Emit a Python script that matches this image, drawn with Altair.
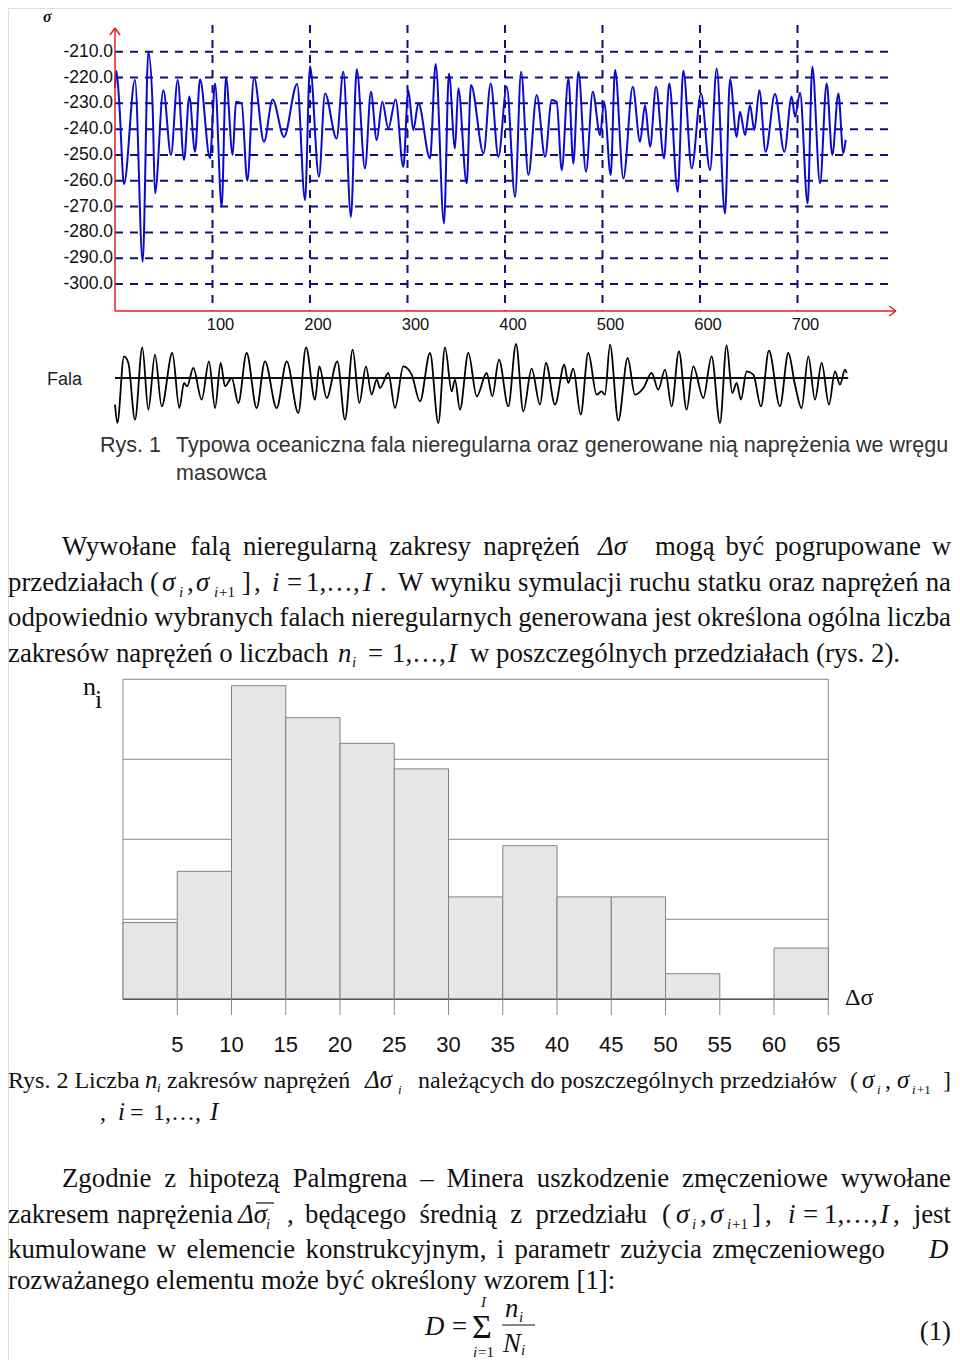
import altair as alt
import pandas as pd

# ---------------- data ----------------
sigma_points = [(0, -224), (1.5, -217.5), (4.4, -230), (9.2, -261.3), (20.5, -221), (28.4, -291.4),
    (34.2, -210), (38.6, -231.3), (41.0, -264.9), (49.6, -224.9), (57.4, -250), (64.3, -221),
    (70.8, -252), (76.2, -227.4), (82.1, -248.8), (87.2, -220.7), (97.4, -251.3), (102.6, -222.3),
    (109.4, -270), (113.8, -220), (120.7, -250), (124.1, -229.4), (129.9, -230), (135.7, -260),
    (142.6, -220), (152.8, -244.9), (161.7, -228.5), (173.3, -243), (186.8, -222.5), (194.9, -267.5),
    (200.0, -215.6), (209.2, -258.4), (215.4, -226.2), (227.3, -243.6), (234.2, -217.8), (242.0, -274),
    (247.9, -216.8), (256.4, -255.2), (262.5, -225.5), (268.4, -244.2), (274.2, -229.4), (280.3, -239.7),
    (287.8, -228.5), (295.7, -254.6), (300.8, -224.9), (306.0, -240.4), (311.1, -230), (323.1, -251.3),
    (328.9, -214.8), (337.4, -276.5), (342.5, -218.4), (348.7, -247.5), (352.1, -224.2), (360.7, -261),
    (365.1, -222.9), (378.0, -249.4), (385.3, -222.3), (393.2, -250.7), (401.8, -223.6), (410.3, -266.2),
    (416.5, -217.8), (424.0, -257.8), (432.5, -226.8), (441.1, -250.7), (447.9, -228.7), (453.0, -229.4),
    (458.2, -255.9), (465.0, -220.3), (470.1, -253.3), (475.3, -217.8), (483.1, -256.5), (490.0, -225.5),
    (497.5, -242.3), (501.6, -229.4), (508.4, -257.8), (512.9, -217.1), (521.4, -259.1), (531.0, -223.6),
    (538.5, -244.9), (543.6, -230.7), (548.8, -246.8), (554.9, -223.6), (563.1, -251.3), (568.5, -222.3),
    (577.1, -264.3), (582.9, -217.4), (591.5, -255.2), (601.0, -226.2), (610.3, -255.9), (617.1, -216.5),
    (625.6, -272.7), (630.8, -220.7), (637.6, -243), (641.0, -233.3), (646.2, -242.3), (651.3, -230.7),
    (655.7, -240.4), (660.9, -224.9), (667.3, -248.8), (676.9, -226.4), (686.5, -248.8), (694.0, -227.4),
    (697.4, -235.2), (702.6, -225.9), (710.4, -268.8), (715.2, -215.8), (723.1, -261), (729.9, -222.3),
    (735.7, -250), (741.9, -226.2), (747.0, -249.4), (749.4, -244.2)]

fala_points = [(0, -8), (2.4, -13.5), (9.2, 6.5), (13.7, 4.5), (20.5, -12.5), (28, 9.2), (34.2, -9.5),
    (41, 7), (47.9, -8.5), (58.8, 7.5), (66, -9), (70.8, -1.5), (74, -2.5), (80.3, 3), (88.9, -6.5),
    (96.4, 5), (102.6, -9), (108.4, 4.5), (112.8, -2.5), (119.7, 0), (126.5, -7.5), (135, 7.5),
    (145.3, -9), (153.8, 5), (165.8, -9), (176.1, 5), (188, -10.5), (195.9, 9.2), (205.1, -6.5),
    (209.6, 3.5), (217.1, -6), (228, 5), (235.9, -12.5), (243.8, 8.5), (250.6, -7.5), (257.4, 3.5),
    (263.2, -5), (268.4, -0.5), (271.8, -3), (280.3, 1.5), (287.2, -9), (295.7, 3.5), (304.3, 1),
    (312.8, -7), (323.1, 7.5), (331.6, -13.5), (338.5, 9.2), (345.3, -4), (348.7, -0.5), (353.8, -9.5),
    (362.4, 7.5), (371, -5.5), (381.2, 1.5), (387, -5.5), (393.8, 5.5), (403.4, -8.5), (411.3, 10.2),
    (418.8, -10), (427.3, 2.8), (435.9, -8), (442, 4.5), (451.3, -8), (460.8, 4), (464.9, -1.5),
    (470, 2.8), (477.6, -11), (485.4, 7.5), (494, -5), (499.1, -4), (502.5, -5), (507.7, 10),
    (516.2, -12.8), (525.8, 6), (533.3, -5), (541.9, -3), (550.4, 1.5), (557.2, -3.5), (564.1, 2.5),
    (570.9, -8.5), (578.4, 8), (586.3, -9.5), (593.1, 3.5), (603.4, -6), (611.9, 6.5), (620.5, -13.5),
    (627.3, 9.8), (633.1, -4.5), (637.6, -1.5), (642, -6.5), (647.8, 2), (654.7, 1), (662.5, -8.5),
    (670.7, 8.2), (682, -8.5), (690.6, 7.5), (697.4, -2), (704.2, -9), (711.1, 6.5), (717.9, -6.5),
    (724.8, 4.5), (732.3, -8), (738.4, 2), (743.6, -2), (748.7, 2.5), (750.4, 1.5)]

sigma_ticks = [-210, -220, -230, -240, -250, -260, -270, -280, -290, -300]
sigma_tick_labels = ["-210.0", "-220.0", "-230.0", "-240.0", "-250.0", "-260.0", "-270.0",
                     "-280.0", "-290.0", "-300.0"]
time_ticks = [100, 200, 300, 400, 500, 600, 700]

hist_lo = [0, 5, 10, 15, 20, 25, 30, 35, 40, 45, 50, 55, 60]
hist_n = [3, 5, 12.25, 11, 10, 9, 4, 6, 4, 4, 1, 0, 2]
hist_ticks = [5, 10, 15, 20, 25, 30, 35, 40, 45, 50, 55, 60, 65]
hist_grid = [3.125, 6.25, 9.375, 12.5]

O = 8  # page margin


def P(v):
    return v - O


# ---------------- scales ----------------
tx = alt.Scale(domain=[0, 750], range=[P(115), P(115 + 731.25)], zero=False, nice=False)
sy = alt.Scale(domain=[-300, -210], range=[P(284), P(51.7)], zero=False, nice=False)
fy = alt.Scale(domain=[-15, 15], range=[P(428), P(328)], zero=False, nice=False)
hx = alt.Scale(domain=[0, 65], range=[P(123), P(828.3)], zero=False, nice=False)
hy = alt.Scale(domain=[0, 12.5], range=[P(999.3), P(679.3)], zero=False, nice=False)

NAVY = "#10107a"
BLUE = "#0b0bd0"
RED = "#e02020"

layers = []

# ---- top chart ----
sig_df = pd.DataFrame(sigma_points, columns=["t", "s"])
ytick_df = pd.DataFrame({"s": sigma_ticks, "lab": sigma_tick_labels})
xtick_df = pd.DataFrame({"t": time_ticks, "lab": [str(v) for v in time_ticks]})

layers.append(alt.Chart(ytick_df).mark_rule(color=NAVY, strokeWidth=2, strokeDash=[8, 7]).encode(
    y=alt.Y("s:Q", scale=sy, axis=None), x=alt.value(P(115)), x2=alt.value(P(895))))
layers.append(alt.Chart(xtick_df).mark_rule(color=NAVY, strokeWidth=2, strokeDash=[8, 7]).encode(
    x=alt.X("t:Q", scale=tx, axis=None), y=alt.value(P(25)), y2=alt.value(P(311))))
layers.append(alt.Chart(sig_df).mark_line(color=BLUE, strokeWidth=2, interpolate="monotone").encode(
    x=alt.X("t:Q", scale=tx, axis=None), y=alt.Y("s:Q", scale=sy, axis=None)))
layers.append(alt.Chart(ytick_df).mark_text(align="right", baseline="middle", font="Liberation Sans",
    fontSize=17.5, color="#111").encode(y=alt.Y("s:Q", scale=sy, axis=None), x=alt.value(P(113)), text="lab:N"))
layers.append(alt.Chart(xtick_df).mark_text(align="center", baseline="middle", font="Liberation Sans",
    fontSize=16.5, color="#111", dx=8).encode(x=alt.X("t:Q", scale=tx, axis=None), y=alt.value(P(325)), text="lab:N"))

one = pd.DataFrame({"a": [0]})


def seg(x1, y1, x2, y2, color, w=1.5):
    return alt.Chart(one).mark_rule(color=color, strokeWidth=w).encode(
        x=alt.value(P(x1)), y=alt.value(P(y1)), x2=alt.value(P(x2)), y2=alt.value(P(y2)))


layers += [seg(115, 28, 115, 311, RED), seg(115, 311, 896, 311, RED),
           seg(110, 35, 115, 28, RED), seg(115, 28, 120, 35, RED),
           seg(889, 306, 896, 311, RED), seg(896, 311, 889, 316, RED)]

# ---- Fala ----
fala_df = pd.DataFrame(fala_points, columns=["t", "h"])
layers.append(alt.Chart(pd.DataFrame({"t": [0], "t2": [752], "h": [0]})).mark_rule(color="#111", strokeWidth=2).encode(
    x=alt.X("t:Q", scale=tx, axis=None), x2="t2:Q", y=alt.Y("h:Q", scale=fy, axis=None)))
layers.append(alt.Chart(fala_df).mark_line(color="#000", strokeWidth=1.8, interpolate="monotone").encode(
    x=alt.X("t:Q", scale=tx, axis=None), y=alt.Y("h:Q", scale=fy, axis=None)))

# ---- histogram ----
hist_df = pd.DataFrame({"lo": hist_lo, "hi": [v + 5 for v in hist_lo], "n": hist_n})
grid_df = pd.DataFrame({"g": hist_grid, "x0": [0] * 4, "x1": [65] * 4})
layers.append(alt.Chart(grid_df).mark_rule(color="#8a8a8a", strokeWidth=1).encode(
    y=alt.Y("g:Q", scale=hy, axis=None), x=alt.X("x0:Q", scale=hx, axis=None), x2="x1:Q"))
frame_df = pd.DataFrame({"x": [0, 65], "y0": [0, 0], "y1": [12.5, 12.5]})
layers.append(alt.Chart(frame_df).mark_rule(color="#8a8a8a", strokeWidth=1).encode(
    x=alt.X("x:Q", scale=hx, axis=None), y=alt.Y("y0:Q", scale=hy, axis=None), y2="y1:Q"))
layers.append(alt.Chart(hist_df).mark_rect(fill="#e6e6e6", stroke="#808080", strokeWidth=1).encode(
    x=alt.X("lo:Q", scale=hx, axis=None), x2="hi:Q", y=alt.Y("n:Q", scale=hy, axis=None), y2=alt.datum(0)))
layers.append(alt.Chart(pd.DataFrame({"x0": [0], "x1": [65], "y": [0]})).mark_rule(color="#555", strokeWidth=1.5).encode(
    x=alt.X("x0:Q", scale=hx, axis=None), x2="x1:Q", y=alt.Y("y:Q", scale=hy, axis=None)))
htick_df = pd.DataFrame({"x": hist_ticks, "lab": [str(v) for v in hist_ticks]})
layers.append(alt.Chart(htick_df).mark_rule(color="#8a8a8a", strokeWidth=1).encode(
    x=alt.X("x:Q", scale=hx, axis=None), y=alt.value(P(999)), y2=alt.value(P(1015))))
layers.append(alt.Chart(htick_df).mark_text(align="center", baseline="middle", font="Liberation Sans",
    fontSize=22, color="#111").encode(x=alt.X("x:Q", scale=hx, axis=None), y=alt.value(P(1045)), text="lab:N"))


# ---------------- texts ----------------
TNR = {" ": 250, ",": 250, ".": 250, ":": 278, "(": 333, ")": 333, "[": 333, "]": 333, "–": 500, "…": 1000,
       "W": 944, "Z": 611, "P": 556, "M": 889, "R": 667, "L": 611, "D": 722, "I": 333,
       "a": 444, "b": 500, "c": 444, "d": 500, "e": 444, "f": 333, "g": 500, "h": 500, "i": 278, "j": 278,
       "k": 500, "l": 278, "m": 778, "n": 500, "o": 500, "p": 500, "q": 500, "r": 333, "s": 389, "t": 278,
       "u": 500, "v": 500, "w": 722, "x": 500, "y": 500, "z": 444, "ą": 444, "ć": 444, "ę": 444, "ł": 278,
       "ń": 500, "ó": 500, "ś": 389, "ź": 444, "ż": 444}


def width(s, size):
    return sum(TNR.get(c, 500) for c in s) * size / 1000.0


def justify(words, x0, x1, y, size):
    total = sum(width(s, size) for s in words)
    gap = (x1 - x0 - total) / (len(words) - 1)
    out, x = [], x0
    for s in words:
        out.append((s, x, y))
        x += width(s, size) + gap
    return out


def T(items, size, font="Liberation Serif", style="normal", weight="normal", color="#111", align="left"):
    df = pd.DataFrame([{"x": P(x), "y": P(y), "txt": s} for s, x, y in items])
    return alt.Chart(df).mark_text(align=align, baseline="alphabetic", font=font, fontSize=size,
                                   fontStyle=style, fontWeight=weight, color=color).encode(
        x=alt.X("x:Q", scale=None, axis=None), y=alt.Y("y:Q", scale=None, axis=None), text="txt:N")


BS = 26.8
L = 8      # left text edge
R = 951    # right text edge
body = []
body += justify(["Wywołane", "falą", "nieregularną", "zakresy", "naprężeń"], 62, 580, 555, BS)
body += justify(["mogą", "być", "pogrupowane", "w"], 655, R, 555, BS)
body += [("przedziałach", L, 591), ("(", 150, 591), (",", 187, 591), ("]", 242, 591), (",", 254, 591),
         ("=", 287, 591), ("1,…,", 306, 591), (".", 380, 591)]
body += justify(["W", "wyniku", "symulacji", "ruchu", "statku", "oraz", "naprężeń", "na"], 398, R, 591, BS)
body += justify(["odpowiednio", "wybranych", "falach", "nieregularnych", "generowana", "jest", "określona",
                 "ogólna", "liczba"], L, R, 626, BS)
body += [("zakresów naprężeń o liczbach", L, 662), ("=", 368, 662), ("1,…,", 392, 662),
         ("w poszczególnych przedziałach (rys. 2).", 470, 662)]
body += justify(["Zgodnie", "z", "hipotezą", "Palmgrena", "–", "Minera", "uszkodzenie", "zmęczeniowe",
                 "wywołane"], 62, R, 1187, BS)
body += justify(["zakresem", "naprężenia"], L, 233, 1223, BS)
body += [(",", 287, 1223)]
body += justify(["będącego", "średnią", "z", "przedziału"], 305, 647, 1223, BS)
body += [("(", 662, 1223), (",", 700, 1223), ("]", 752, 1223), (",", 765, 1223), ("=", 803, 1223),
         ("1,…,", 824, 1223), (",", 893, 1223)]
body += justify(["kumulowane", "w", "elemencie", "konstrukcyjnym,", "i", "parametr", "zużycia",
                 "zmęczeniowego"], L, 885, 1258, BS)
body += [("rozważanego elementu może być określony wzorem [1]:", L, 1289), ("=", 452, 1335)]
layers.append(T(body, BS))
layers.append(T([("jest", R, 1223), ("(1)", R, 1340)], BS, align="right"))

italic_big = [
    ("Δσ", 598, 555), ("σ", 162, 591), ("σ", 196, 591), ("i", 272, 591), ("I", 363, 591),
    ("n", 338, 662), ("I", 448, 662),
    ("Δσ", 238, 1223), ("σ", 676, 1223), ("σ", 710, 1223), ("i", 788, 1223), ("I", 880, 1223),
    ("D", 929, 1258), ("D", 425, 1335), ("n", 505, 1317), ("N", 503, 1352),
]
layers.append(T(italic_big, BS, style="italic"))
italic_small = [
    ("i", 179, 597), ("i", 214, 597), ("i", 352, 667), ("i", 266, 1229), ("i", 692, 1229), ("i", 727, 1229),
    ("I", 481, 1307), ("i", 473, 1357), ("i", 519, 1322), ("i", 521, 1355),
]
layers.append(T(italic_small, 15, style="italic"))
layers.append(T([("+1", 219, 597), ("+1", 732, 1229), ("=1", 478, 1357)], 15))
layers.append(T([("Σ", 472, 1338)], 34))
layers.append(seg(502, 1325, 535, 1325, "#111", 1.2))
layers.append(seg(256, 1203, 274, 1203, "#111", 1.2))

# n_i label & delta sigma
layers.append(T([("n", 83, 695), ("i", 95, 708)], 26))
layers.append(T([("Δσ", 845, 1005)], 24))

# caption 2
CS = 24
cap2 = [("Rys. 2 Liczba", L, 1088), ("zakresów naprężeń", 167, 1088),
        ("należących do poszczególnych przedziałów", 418, 1088), (",", 100, 1120),
        ("(", 850, 1088), (",", 885, 1088), ("]", 943, 1088), ("=", 130, 1120), ("1,…,", 153, 1120)]
layers.append(T(cap2, CS))
cap2_it = [("n", 145, 1088), ("Δσ", 365, 1088), ("σ", 862, 1088), ("σ", 897, 1088), ("i", 118, 1120),
           ("I", 210, 1120)]
layers.append(T(cap2_it, 25, style="italic"))
layers.append(T([("i", 157, 1092), ("i", 398, 1094), ("i", 877, 1094), ("i", 912, 1094)], 13, style="italic"))
layers.append(T([("+1", 917, 1094)], 13))

# caption 1 and labels of top chart
layers.append(T([("Rys. 1", 100, 452),
                 ("Typowa oceaniczna fala nieregularna oraz generowane nią naprężenia we wręgu", 176, 452),
                 ("masowca", 176, 480)], 21.5, font="Liberation Sans", color="#333"))
layers.append(T([("Fala", 47, 385)], 18, font="Liberation Sans", color="#222"))
layers.append(T([("σ", 43, 22)], 16, style="italic", weight="bold", color="#111"))

chart = alt.layer(*layers).resolve_scale(x="independent", y="independent").properties(
    width=944, height=1352, padding=0, autosize=alt.AutoSizeParams(type="none")
).configure_view(stroke=None).configure(background="white")

chart.save("out.html", embed_options={"renderer": "svg", "actions": False})
